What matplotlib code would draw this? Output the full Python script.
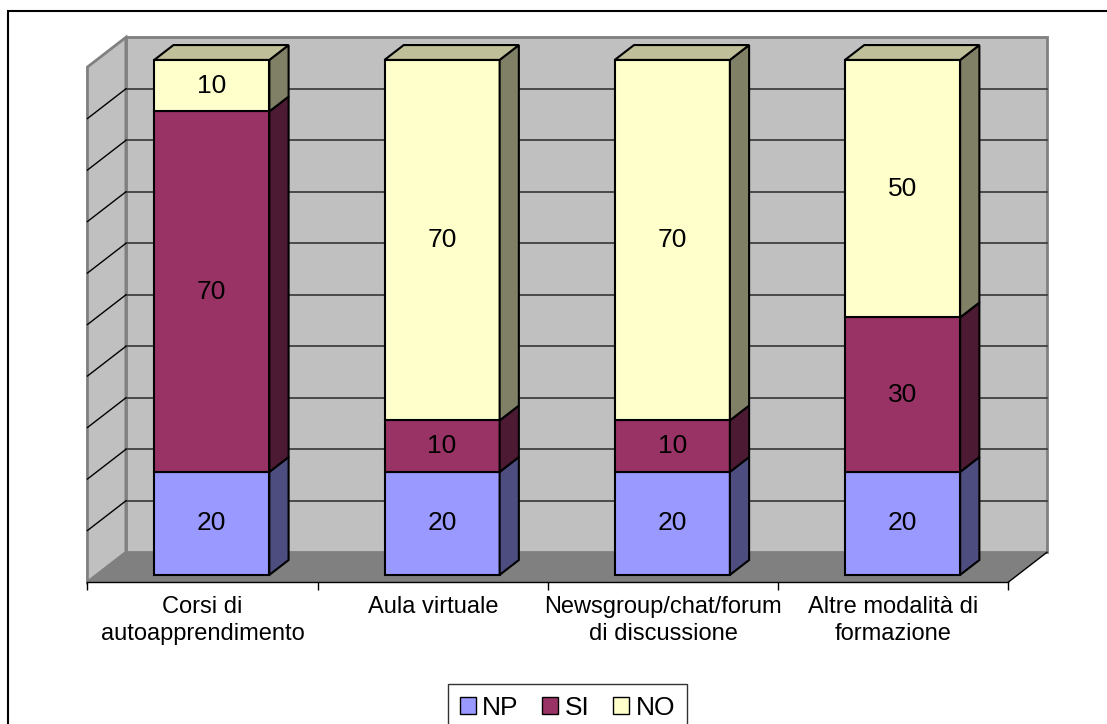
import numpy as np
import matplotlib
matplotlib.use('Agg')
import matplotlib.pyplot as plt
from matplotlib.patches import Polygon, Rectangle, Patch

plt.rcParams['font.family'] = ['Liberation Sans', 'DejaVu Sans']

# Survey answers per training type (percentages)
categories = ['Corsi di\nautoapprendimento', 'Aula virtuale',
              'Newsgroup/chat/forum\ndi discussione', 'Altre modalità di\nformazione']
series_names = ['NP', 'SI', 'NO']
np_vals = [20, 20, 20, 20]
si_vals = [70, 10, 10, 30]
no_vals = [10, 70, 70, 50]
series_values = [np_vals, si_vals, no_vals]
series_colors = ['#9999FF', '#993366', '#FFFFCC']

y_max = 100
grid_step = 10

# fake 3D: depth vector of the whole plot box, in data units
dx, dy = 0.167, 5.77
bar_front = 0.24      # depth fraction where the bar front face sits
bar_depth = 0.5       # depth fraction taken by the bar
bar_width = 0.5

wall_color = '#C0C0C0'
floor_color = '#808080'


def shade(color, k):
    rgb = np.array(matplotlib.colors.to_rgb(color))
    return tuple(rgb * k)


fig = plt.figure(figsize=(11.07, 7.24), dpi=100)
ax = fig.add_axes([0.0790, 0.1961, 0.8320, 0.7113])
ax.set_xlim(0, len(categories))
ax.set_ylim(0, y_max)
ax.patch.set_visible(False)

n = len(categories)

# back wall, left wall and floor
back = Polygon([(dx, dy), (n + dx, dy), (n + dx, y_max + dy), (dx, y_max + dy)],
               closed=True, facecolor=wall_color, edgecolor='#808080', lw=2, clip_on=False, zorder=1)
left = Polygon([(0, 0), (dx, dy), (dx, y_max + dy), (0, y_max)],
               closed=True, facecolor=wall_color, edgecolor='#808080', lw=2, clip_on=False, zorder=1)
floor = Polygon([(0, 0), (n, 0), (n + dx, dy), (dx, dy)],
                closed=True, facecolor=floor_color, edgecolor='none', clip_on=False, zorder=2)
for p in (back, left, floor):
    ax.add_patch(p)

# gridlines on both walls
for v in np.arange(grid_step, y_max, grid_step):
    ax.plot([dx, n + dx], [v + dy, v + dy], color='#404040', lw=1.3, clip_on=False, zorder=1.5)
    ax.plot([0, dx], [v, v + dy], color='black', lw=1, clip_on=False, zorder=1.5)
ax.plot([n, n + dx], [0, dy], color='black', lw=1, clip_on=False, zorder=2.5)

# stacked 3D columns
for i in range(n):
    x0 = i + (1 - bar_width) / 2 + bar_front * dx
    x1 = x0 + bar_width
    ox, oy = bar_depth * dx, bar_depth * dy
    base = 0
    for s, vals in enumerate(series_values):
        v = vals[i]
        b = base + bar_front * dy
        t = base + v + bar_front * dy
        col = series_colors[s]
        ax.add_patch(Rectangle((x0, b), bar_width, v, facecolor=col, edgecolor='black',
                               lw=1.5, clip_on=False, zorder=3))
        ax.add_patch(Polygon([(x1, b), (x1 + ox, b + oy), (x1 + ox, t + oy), (x1, t)],
                             closed=True, facecolor=shade(col, 0.5), edgecolor='black',
                             lw=1.5, clip_on=False, zorder=3))
        if s == len(series_values) - 1:
            ax.add_patch(Polygon([(x0, t), (x1, t), (x1 + ox, t + oy), (x0 + ox, t + oy)],
                                 closed=True, facecolor=shade(col, 0.75), edgecolor='black',
                                 lw=1.5, clip_on=False, zorder=3))
        ax.text((x0 + x1) / 2, (b + t) / 2, str(v), ha='center', va='center',
                fontsize=19, zorder=4)
        base += v

# category axis
for side in ('left', 'right', 'top'):
    ax.spines[side].set_visible(False)
ax.spines['bottom'].set_color('black')
ax.spines['bottom'].set_linewidth(1)
ax.spines['bottom'].set_zorder(2.6)
ax.set_yticks([])
ax.set_xticks(range(n + 1))
ax.set_xticklabels([])
ax.set_xticks(np.arange(n) + 0.5, minor=True)
ax.set_xticklabels(categories, minor=True, fontsize=17, linespacing=1.27)
ax.tick_params(axis='x', which='major', direction='out', length=6, width=1, color='black')
ax.tick_params(axis='x', which='minor', length=0, pad=10)

# legend along the bottom
handles = [Patch(facecolor=c, edgecolor='black', lw=1) for c in series_colors]
leg = fig.legend(handles, series_names, loc='upper center', bbox_to_anchor=(0.5126, 0.0552),
                 ncol=3, fontsize=19, frameon=True, fancybox=False, edgecolor='black',
                 handlelength=0.6, handleheight=0.6, handletextpad=0.25, columnspacing=0.9,
                 borderpad=0.45, borderaxespad=0)
leg.get_frame().set_linewidth(1)

# chart area border
fig.patches.append(Rectangle((8 / 1107, -0.05), 1.05, 0.9848 + 0.05, transform=fig.transFigure,
                             fill=False, edgecolor='black', lw=1.5, zorder=0))

fig.savefig('out.png', dpi=100)
